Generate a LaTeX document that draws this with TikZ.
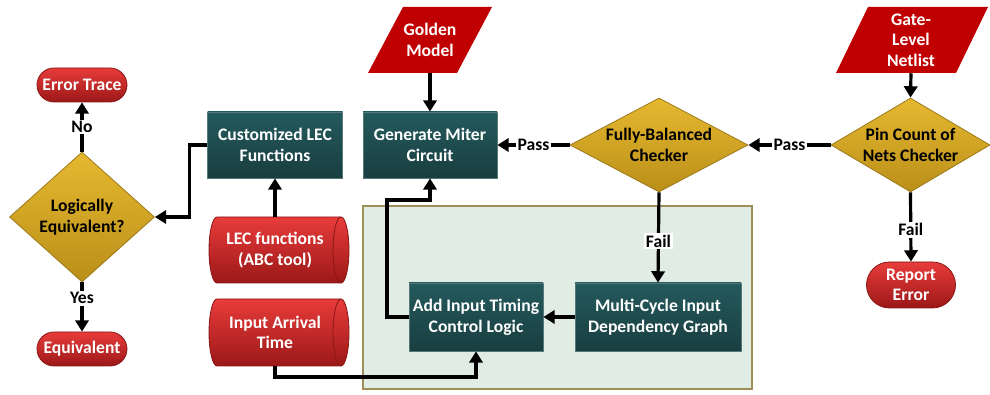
\documentclass[tikz,border=0pt]{standalone}
\usepackage{fontspec}
\setmainfont{Carlito}
\usetikzlibrary{shapes.geometric,shapes.misc,arrows.meta}
\definecolor{tealT}{HTML}{245A5D}
\definecolor{tealB}{HTML}{193E40}
\definecolor{tealE}{HTML}{557878}
\definecolor{goldT}{HTML}{E6B830}
\definecolor{goldB}{HTML}{BA8F18}
\definecolor{goldE}{HTML}{9C7A1C}
\definecolor{redT}{HTML}{E73C3A}
\definecolor{redB}{HTML}{9C1818}
\definecolor{redE}{HTML}{8A1616}
\definecolor{pgred}{HTML}{C00000}
\definecolor{grnF}{HTML}{E1ECE5}
\definecolor{grnE}{HTML}{A08E58}
\begin{document}
\begin{tikzpicture}[x=0.75pt,y=0.75pt,
  every node/.style={font=\fontsize{13.2}{15.5}\selectfont\bfseries, align=center, inner sep=0pt},
  proc/.style={rectangle, draw=tealE, line width=0.6pt, top color=tealT, bottom color=tealB, text=white},
  term/.style={rounded rectangle, draw=redE, line width=0.6pt, top color=redT, bottom color=redB, text=white},
  dec/.style={diamond, draw=goldE, line width=0.6pt, top color=goldT, bottom color=goldB},
  cyl/.style={draw=redE, line width=0.6pt, top color=redT, bottom color=redB},
  lbl/.style={fill=white, inner sep=1.2pt},
  conn/.style={line width=2.4pt, -{Triangle[length=8.5pt,width=10pt]}}]
\useasboundingbox (0,0) rectangle (990,395);

% shaded region
\draw[fill=grnF, draw=grnE, line width=1pt] (363,6) rectangle (752,189);

% parallelograms
\fill[pgred] (403,388) -- (492,388) -- (457,322) -- (368,322) -- cycle;
\node[text=white] (gold) at (430,355) [minimum height=49.5pt] {Golden\\Model};
\fill[pgred] (868,388) -- (988,388) -- (956,322) -- (836,322) -- cycle;
\node[text=white] (gate) at (911,355) [minimum height=49.5pt] {Gate-\\Level\\Netlist};

% cylinders
\path[cyl] (217,178) -- (341,178) arc[start angle=90, end angle=-90, x radius=6pt, y radius=24.75pt]
  -- (217,112) arc[start angle=270, end angle=90, x radius=6pt, y radius=24.75pt] -- cycle;
\draw[redE, line width=0.6pt] (341,178) arc[start angle=90, end angle=270, x radius=6pt, y radius=24.75pt];
\node[text=white, minimum width=99pt, minimum height=49.5pt] (lec) at (275,145) {LEC functions\\(ABC tool)};

\path[cyl] (217,96) -- (341,96) arc[start angle=90, end angle=-90, x radius=6pt, y radius=25.125pt]
  -- (217,29) arc[start angle=270, end angle=90, x radius=6pt, y radius=25.125pt] -- cycle;
\draw[redE, line width=0.6pt] (341,96) arc[start angle=90, end angle=270, x radius=6pt, y radius=25.125pt];
\node[text=white, minimum width=99pt, minimum height=50.25pt] (ia) at (275,62.5) {Input Arrival\\Time};

% terminators
\node[term, minimum width=67.5pt, minimum height=25.5pt] (err) at (82,310) {Error Trace};
\node[term, minimum width=67.5pt, minimum height=25.5pt] (eq) at (82,46) {Equivalent};
\node[term, minimum width=66.75pt, minimum height=34.5pt] (rep) at (911,110) {Report\\Error};

% decisions
\node[dec, minimum width=108.75pt, minimum height=97.5pt,
  label={[font=\fontsize{13.2}{15.5}\selectfont\bfseries, align=center]center:Logically\\Equivalent?}] (logic) at (82,178) {};
\node[dec, minimum width=133.5pt, minimum height=70.5pt,
  label={[font=\fontsize{13.2}{15.5}\selectfont\bfseries, align=center]center:Fully-Balanced\\Checker}] (fully) at (659,250) {};
\node[dec, minimum width=119.25pt, minimum height=70.5pt,
  label={[font=\fontsize{13.2}{15.5}\selectfont\bfseries, align=center]center:Pin Count of\\Nets Checker}] (pin) at (910.5,250) {};

% processes
\node[proc, minimum width=101.25pt, minimum height=49.5pt] (cust) at (275,250) {Customized LEC\\Functions};
\node[proc, minimum width=100.5pt, minimum height=49.5pt] (miter) at (430,250) {Generate Miter\\Circuit};
\node[proc, minimum width=100.5pt, minimum height=51pt] (add) at (476,78) {Add Input Timing\\Control Logic};
\node[proc, minimum width=124.5pt, minimum height=51pt] (multi) at (658,78) {Multi-Cycle Input\\Dependency Graph};

% connectors
\coordinate (k1) at (387,195);
\coordinate (k2) at (275,18);
\draw[conn] (logic.north) -- node[lbl]{No} (err.south);
\draw[conn] (logic.south) -- node[lbl, pos=0.32]{Yes} (eq.north);
\draw[conn] (cust.west) -- ++(-18,0) |- (logic.east);
\draw[conn] (lec.north) -- (cust.south);
\draw[conn] (gold.south) -- (miter.north);
\draw[conn] (fully.west) -- node[lbl]{Pass} (miter.east);
\draw[conn] (pin.west) -- node[lbl]{Pass} (fully.east);
\draw[conn] (gate.south) -- (pin.north);
\draw[conn] (pin.south) -- node[lbl, pos=0.54]{Fail} (rep.north);
\draw[conn] (fully.south) -- node[lbl, pos=0.54]{Fail} (multi.north);
\draw[conn] (multi.west) -- (add.east);
\draw[conn] (add.west) -| (k1) -| (miter.south);
\draw[conn] (ia.south) -- (k2) -| (add.south);
\end{tikzpicture}
\end{document}
